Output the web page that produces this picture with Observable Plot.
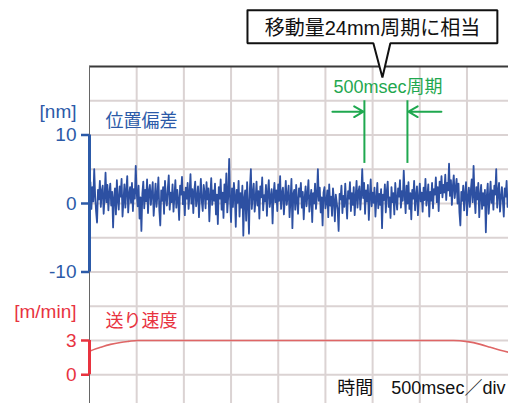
<!DOCTYPE html>
<html>
<head>
<meta charset="utf-8">
<script src="https://cdn.jsdelivr.net/npm/d3@7"></script>
<script src="https://cdn.jsdelivr.net/npm/@observablehq/plot@0.6"></script>
<style>
  html, body { margin: 0; padding: 0; background: #fff; }
  #chart svg { display: block; overflow: visible; }
</style>
</head>
<body>
<div id="chart"></div>
<script>
// ---- data ----
const sampleIntervalMs = 10;
const positionDeviationNm = [
  1.2, 3.1, -0.8, 2.4, 0.3, 5.0, 1.1, -1.2, -2.8, 2.0, 0.6, 3.3, -0.5, 1.8, 2.6, -1.5, 0.9, 4.5, 0.2, 2.7, -1.0, 1.5,
  2.9, -0.3, 1.7, -3.5, 0.8, 2.2, -1.6, 3.4, 0.5, -0.9, 2.5, 1.0, 3.6, -1.9, 0.4, 2.8, -0.6, 1.9, 4.0, -1.3, 1.3, 2.4,
  0.1, 3.0, -1.1, 2.1, 0.7, 5.5, 1.6, -0.4, 2.6, -2.2, 0.9, -4.0, 1.4, 3.2, -0.7, 2.0, 0.3, 3.5, -1.4, 1.8, 2.7, -0.2,
  1.5, 3.1, -1.8, 0.6, 2.9, -0.5, 1.2, 3.8, -1.0, -3.2, 1.9, 0.4, 2.4, -1.5, 3.3, 0.8, -0.3, 2.2, 4.1, -0.9, 1.6, 0.2,
  2.8, -1.2, 1.0, 3.4, -0.6, 2.0, 0.5, -2.4, 2.6, 1.3, 3.9, -0.1, 1.7, -1.7, 2.3, 0.7, 3.0, -0.8, 1.4, 4.3, 0.0, 2.1,
  -1.4, 1.8, 3.2, -0.4, 0.9, 2.5, -2.0, 1.1, 3.6, 0.3, -1.1, 2.7, 1.5, -0.7, 3.1, 0.6, 2.2, -2.6, 1.0, 3.7, -0.2, 1.9,
  0.4, 2.9, -1.6, 1.3, -3.0, 2.4, 0.7, 3.5, -0.9, 1.6, -2.1, 2.8, 0.2, 4.4, -1.3, 1.0, 6.5, 0.5, -2.7, 2.2, -0.5, 3.0,
  1.2, -3.4, 2.0, 0.1, 3.3, -1.9, 1.5, -0.6, 2.6, -4.7, 0.8, 1.9, -2.5, 3.1, 0.0, -4.4, 2.3, 5.0, -0.8, 1.4, 2.9, -1.2,
  0.6, 3.2, -0.3, 1.8, -2.2, 2.5, 0.9, 3.8, -1.0, 1.2, 0.3, 2.7, -1.8, 1.6, 3.4, -0.5, 0.8, 2.1, -2.9, 1.3, 3.0, 0.2,
  1.9, -1.1, 2.8, 0.4, 4.0, -0.8, 1.5, 2.3, -1.6, 0.7, 3.3, -0.2, 1.1, 2.6, -2.0, 0.5, 3.6, -3.6, 1.4, 2.0, -0.9, 2.7,
  0.3, -1.5, 2.2, 1.0, 3.0, -0.6, 1.7, -2.3, 0.8, 2.5, -0.4, 1.3, 3.4, -1.2, 0.6, 2.0, -2.7, 1.5, 0.0, 2.9, -0.8, 1.1,
  5.0, 0.4, 2.3, -1.3, 0.9, -3.2, 1.6, 2.4, -0.7, 0.2, 1.9, -2.0, 2.8, -0.3, 1.0, -1.8, 2.2, 0.5, -2.6, 1.3, 0.1, -1.0,
  -4.0, 1.4, 0.6, 2.6, -1.4, 1.1, -0.5, 2.9, 0.2, -2.2, 1.8, 0.7, 3.1, -1.1, 1.5, -0.2, 2.4, -1.7, 0.9, 3.3, -0.6, 1.7,
  2.5, -0.9, 1.2, 5.0, 0.8, 3.0, -1.5, 1.9, 0.3, 2.7, -2.4, 1.0, 3.5, -0.4, 1.6, 0.1, 2.3, -1.9, 0.7, 3.0, -0.7, 1.4,
  -0.2, 2.1, -3.6, 1.3, 0.5, 2.8, -1.3, 1.7, 3.2, -0.5, 0.9, -2.1, 2.4, 0.2, 1.5, -1.6, 3.0, 0.6, -0.9, 2.2, 1.0, 3.4,
  -0.6, 1.8, 0.4, 4.8, 1.2, -1.4, 2.6, 0.0, 3.1, -0.8, 1.5, -2.3, 2.0, 0.7, 3.3, -1.0, 1.1, 2.5, -1.7, 0.8, 2.9, 0.3,
  1.6, -1.2, 2.3, 0.5, 3.6, -0.3, 1.0, 2.8, -1.9, 1.7, 0.4, 3.0, -0.7, 2.1, 1.3, 3.8, 0.2, 2.4, -1.1, 3.2, 1.5, 4.0,
  0.9, 2.7, 1.6, 4.2, 0.5, 3.0, 1.9, 5.8, 1.1, 3.4, -0.2, 2.5, 4.1, 0.8, 2.2, 3.6, 0.0, 2.9, -1.3, -3.2, 1.7, 0.4,
  2.6, -1.0, 1.4, 3.1, -1.7, 0.9, 2.3, -0.5, 1.8, 3.5, 0.2, 5.5, 1.0, -1.4, 2.4, 0.6, 3.0, -2.0, 1.2, 2.7, -0.8, 1.5,
  -0.3, 2.0, -4.2, 1.1, 2.9, -1.5, 0.7, 3.2, 0.1, 1.9, -0.9, 2.6, 1.3, 5.0, -0.6, 1.7, 3.0, -1.2, 0.8, 2.4,
  0.4, -1.9, 2.2, 1.0, 3.3, -0.5
];

const speedTimeMs   = [0, 117, 222, 328, 413, 508, 3856, 4004, 4142, 4248, 4354, 4440];
const speedMPerMin  = [2.06, 2.4, 2.66, 2.83, 2.92, 3.0, 3.0, 2.9, 2.66, 2.4, 2.15, 1.97];

const timeGridMs   = [500, 1000, 1500, 2000, 2500, 3000, 3500, 4000];
const nmGrid       = [15, 10, 5, 0, -5, -10, -15, -20, -25];
const positionTicks = [10, 0, -10];
const speedTicks    = [3, 0];

const periodLinesMs = [2913, 3369];
const calloutText = "移動量24mm周期に相当";
const periodText  = "500msec周期";
const timeText    = "時間　500msec／div";

// speed shares the panel below the deviation trace: 0 m/min sits on the -25 nm grid line, 3 m/min one division higher
const speedZero = -25, speedPerUnit = 5 / 3;
const speedToY = s => speedZero + s * speedPerUnit;

const positionData = positionDeviationNm.map((v, i) => ({t: i * sampleIntervalMs, v}));
const speedData = speedTimeMs.map((t, i) => ({t, y: speedToY(speedMPerMin[i])}));

const BLUE = "#2c5aa8", LINEBLUE = "#2d50a2", RED = "#e8333f", SPEEDRED = "#df6666", GREEN = "#1fa84f";
const FONT = "'Liberation Sans','Noto Sans CJK JP',sans-serif";

const calloutPath = [
  {x: 1674, y: 28.2}, {x: 4322, y: 28.2}, {x: 4322, y: 23.4}, {x: 3188, y: 23.4},
  {x: 3104, y: 18.4}, {x: 3008, y: 23.4}, {x: 1674, y: 23.4}, {x: 1674, y: 28.2}
];

const chart = Plot.plot({
  width: 508,
  height: 403,
  marginLeft: 89,
  marginRight: 0,
  marginTop: 66,
  marginBottom: 0,
  style: {fontFamily: FONT, background: "#fff", overflow: "visible"},
  x: {domain: [0, 4440], axis: null},
  y: {domain: [-29.2, 20], axis: null},
  marks: [
    Plot.gridX(timeGridMs, {stroke: "#dbd3d3", strokeOpacity: 1, strokeWidth: 2}),
    Plot.gridY(nmGrid, {stroke: "#dbd3d3", strokeOpacity: 1, strokeWidth: 2}),
    Plot.ruleY([20], {stroke: "#3a3a3a", strokeWidth: 2}),
    Plot.ruleX([0], {y1: -29.2, y2: 20, stroke: "#666", strokeWidth: 1}),
    Plot.line(speedData, {x: "t", y: "y", stroke: SPEEDRED, strokeWidth: 1.6, curve: "monotone-x"}),
    Plot.line(positionData, {x: "t", y: "v", stroke: LINEBLUE, strokeWidth: 1.8}),
    Plot.ruleX([0], {y1: -10, y2: 10, stroke: BLUE, strokeWidth: 3}),
    Plot.ruleX([0], {y1: speedToY(0), y2: speedToY(3), stroke: RED, strokeWidth: 3}),
    Plot.axisY(positionTicks, {anchor: "left", color: BLUE, tickSize: 8, tickPadding: 5, strokeWidth: 2.5, fontSize: 19, label: null,
      tickFormat: d => String(d)}),
    Plot.axisY(speedTicks.map(speedToY), {anchor: "left", color: RED, tickSize: 8, tickPadding: 5, strokeWidth: 2.5, fontSize: 19, label: null,
      tickFormat: d => String(Math.round((d - speedZero) / speedPerUnit))}),
    Plot.text(["[nm]"], {x: 0, y: 13.4, dx: -13, textAnchor: "end", fill: BLUE, fontSize: 19}),
    Plot.text(["位置偏差"], {x: 169, y: 12.0, textAnchor: "start", fill: BLUE, fontSize: 18}),
    Plot.text(["[m/min]"], {x: 0, y: -15.8, dx: -13, textAnchor: "end", fill: RED, fontSize: 19}),
    Plot.text(["送り速度"], {x: 169, y: -17.2, textAnchor: "start", fill: RED, fontSize: 18}),
    Plot.text([timeText], {x: 4407, y: -26.9, textAnchor: "end", fill: "#111", fontSize: 18}),
    // period annotation
    Plot.text([periodText], {x: 3162, y: 16.9, fill: GREEN, fontSize: 18}),
    Plot.ruleX(periodLinesMs, {y1: 5.85, y2: 15.0, stroke: GREEN, strokeWidth: 2}),
    Plot.arrow([{x1: 2574, x2: periodLinesMs[0]}, {x1: 3729, x2: periodLinesMs[1]}],
      {x1: "x1", x2: "x2", y1: 13.4, y2: 13.4, stroke: GREEN, strokeWidth: 2, headLength: 8, insetEnd: 1}),
    // callout
    Plot.line(calloutPath, {x: "x", y: "y", fill: "#fff", stroke: "#111", strokeWidth: 2, strokeLinejoin: "miter"}),
    Plot.text([calloutText], {x: 2998, y: 25.5, fill: "#111", fontSize: 20})
  ]
});
document.getElementById("chart").appendChild(chart);
</script>
</body>
</html>
